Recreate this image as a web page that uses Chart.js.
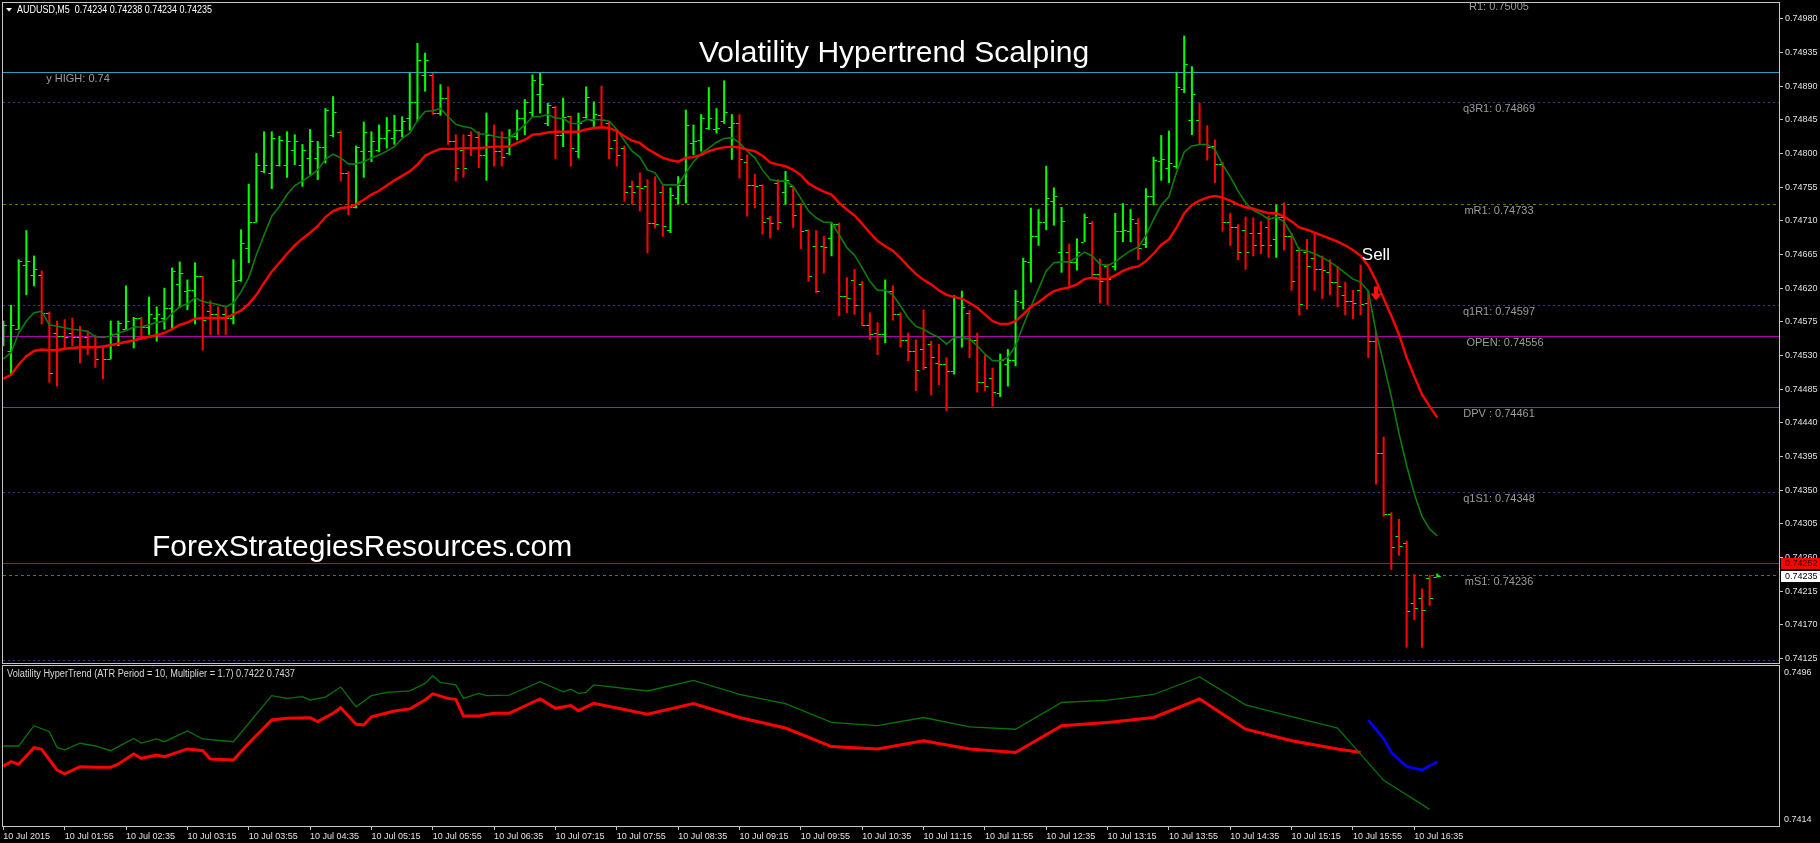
<!DOCTYPE html>
<html>
<head>
<meta charset="utf-8">
<title>Volatility Hypertrend Scalping</title>
<script src="https://cdn.jsdelivr.net/npm/chart.js@4.4.1/dist/chart.umd.min.js"></script>
<style>
  html, body { margin: 0; padding: 0; background: #000; overflow: hidden; }
  #mainWrap { position: absolute; left: 0; top: 0; width: 1820px; height: 666px; }
  #subWrap { position: absolute; left: 0; top: 664px; width: 1820px; height: 179px; }
</style>
</head>
<body>
<div id="mainWrap"><canvas id="mainChart" width="1820" height="666"></canvas></div>
<div id="subWrap"><canvas id="subChart" width="1820" height="179"></canvas></div>
<script>
'use strict';

// AUDUSD M5, 10 Jul 2015 -- bar 0 is 01:15, bar 187 is 16:50 (still open)
const opens = [
  0.74547, 0.74536, 0.74565, 0.74651, 0.74638, 0.74637, 0.74587, 0.74560, 0.74556, 0.74560,
  0.74555, 0.74554, 0.74543, 0.74543, 0.74525, 0.74558, 0.74565, 0.74549, 0.74580, 0.74568,
  0.74580, 0.74580, 0.74594, 0.74625, 0.74616, 0.74618, 0.74636, 0.74589, 0.74585, 0.74586,
  0.74580, 0.74631, 0.74674, 0.74709, 0.74776, 0.74774, 0.74785, 0.74785, 0.74805, 0.74785,
  0.74794, 0.74794, 0.74809, 0.74825, 0.74829, 0.74774, 0.74729, 0.74803, 0.74803, 0.74805,
  0.74820, 0.74820, 0.74831, 0.74847, 0.74869, 0.74905, 0.74905, 0.74854, 0.74874, 0.74816,
  0.74805, 0.74825, 0.74822, 0.74798, 0.74825, 0.74803, 0.74800, 0.74823, 0.74847, 0.74855,
  0.74880, 0.74840, 0.74862, 0.74825, 0.74850, 0.74803, 0.74849, 0.74845, 0.74851, 0.74841,
  0.74818, 0.74807, 0.74756, 0.74756, 0.74756, 0.74707, 0.74749, 0.74698, 0.74740, 0.74758,
  0.74814, 0.74818, 0.74834, 0.74832, 0.74843, 0.74835, 0.74840, 0.74789, 0.74758, 0.74758,
  0.74714, 0.74760, 0.74749, 0.74756, 0.74732, 0.74698, 0.74676, 0.74676, 0.74687, 0.74705,
  0.74609, 0.74631, 0.74625, 0.74571, 0.74560, 0.74558, 0.74616, 0.74585, 0.74550, 0.74536,
  0.74538, 0.74545, 0.74520, 0.74518, 0.74509, 0.74554, 0.74587, 0.74551, 0.74494, 0.74500,
  0.74480, 0.74519, 0.74524, 0.74601, 0.74655, 0.74690, 0.74709, 0.74737, 0.74668, 0.74668,
  0.74655, 0.74682, 0.74707, 0.74639, 0.74649, 0.74649, 0.74696, 0.74696, 0.74707, 0.74679,
  0.74743, 0.74790, 0.74781, 0.74783, 0.74886, 0.74845, 0.74845, 0.74813, 0.74810, 0.74786,
  0.74709, 0.74701, 0.74698, 0.74693, 0.74693, 0.74701, 0.74685, 0.74715, 0.74690, 0.74671,
  0.74668, 0.74660, 0.74646, 0.74641, 0.74628, 0.74611, 0.74603, 0.74617, 0.74600, 0.74549,
  0.74399, 0.74318, 0.74289, 0.74280, 0.74199, 0.74206, 0.74232, 0.74234
];
const highs = [
  0.74576, 0.74597, 0.74658, 0.74697, 0.74663, 0.74643, 0.74588, 0.74576, 0.74578, 0.74580,
  0.74569, 0.74563, 0.74557, 0.74543, 0.74576, 0.74576, 0.74623, 0.74581, 0.74581, 0.74608,
  0.74595, 0.74620, 0.74647, 0.74655, 0.74631, 0.74654, 0.74636, 0.74603, 0.74595, 0.74594,
  0.74658, 0.74698, 0.74759, 0.74800, 0.74829, 0.74829, 0.74823, 0.74829, 0.74825, 0.74812,
  0.74832, 0.74816, 0.74860, 0.74876, 0.74830, 0.74776, 0.74810, 0.74842, 0.74829, 0.74838,
  0.74848, 0.74851, 0.74849, 0.74907, 0.74947, 0.74934, 0.74907, 0.74892, 0.74889, 0.74825,
  0.74825, 0.74829, 0.74829, 0.74854, 0.74838, 0.74829, 0.74832, 0.74858, 0.74872, 0.74905,
  0.74907, 0.74867, 0.74863, 0.74874, 0.74850, 0.74854, 0.74889, 0.74869, 0.74890, 0.74843,
  0.74832, 0.74810, 0.74763, 0.74774, 0.74765, 0.74769, 0.74756, 0.74754, 0.74769, 0.74858,
  0.74838, 0.74852, 0.74888, 0.74860, 0.74897, 0.74852, 0.74852, 0.74798, 0.74772, 0.74758,
  0.74716, 0.74765, 0.74776, 0.74756, 0.74733, 0.74698, 0.74697, 0.74689, 0.74707, 0.74707,
  0.74634, 0.74645, 0.74629, 0.74587, 0.74574, 0.74631, 0.74623, 0.74587, 0.74560, 0.74551,
  0.74591, 0.74549, 0.74545, 0.74527, 0.74610, 0.74616, 0.74590, 0.74560, 0.74530, 0.74513,
  0.74532, 0.74538, 0.74617, 0.74660, 0.74727, 0.74725, 0.74783, 0.74754, 0.74728, 0.74679,
  0.74686, 0.74719, 0.74709, 0.74659, 0.74652, 0.74720, 0.74733, 0.74725, 0.74713, 0.74753,
  0.74795, 0.74824, 0.74830, 0.74908, 0.74957, 0.74916, 0.74867, 0.74837, 0.74818, 0.74788,
  0.74720, 0.74705, 0.74715, 0.74714, 0.74709, 0.74716, 0.74731, 0.74734, 0.74693, 0.74674,
  0.74685, 0.74694, 0.74663, 0.74658, 0.74649, 0.74628, 0.74617, 0.74651, 0.74617, 0.74562,
  0.74421, 0.74320, 0.74311, 0.74282, 0.74237, 0.74218, 0.74236, 0.74238
];
const lows = [
  0.74543, 0.74505, 0.74565, 0.74611, 0.74623, 0.74572, 0.74494, 0.74489, 0.74540, 0.74543,
  0.74520, 0.74531, 0.74514, 0.74499, 0.74525, 0.74543, 0.74565, 0.74540, 0.74551, 0.74558,
  0.74549, 0.74565, 0.74565, 0.74594, 0.74591, 0.74572, 0.74537, 0.74558, 0.74558, 0.74558,
  0.74572, 0.74629, 0.74654, 0.74708, 0.74774, 0.74753, 0.74783, 0.74768, 0.74785, 0.74756,
  0.74772, 0.74765, 0.74787, 0.74822, 0.74763, 0.74718, 0.74727, 0.74768, 0.74789, 0.74802,
  0.74807, 0.74812, 0.74822, 0.74831, 0.74843, 0.74883, 0.74852, 0.74851, 0.74812, 0.74763,
  0.74768, 0.74797, 0.74781, 0.74764, 0.74783, 0.74783, 0.74798, 0.74818, 0.74825, 0.74849,
  0.74854, 0.74837, 0.74793, 0.74809, 0.74783, 0.74794, 0.74847, 0.74836, 0.74834, 0.74793,
  0.74783, 0.74736, 0.74732, 0.74723, 0.74667, 0.74700, 0.74689, 0.74694, 0.74732, 0.74734,
  0.74798, 0.74803, 0.74832, 0.74827, 0.74840, 0.74792, 0.74767, 0.74716, 0.74727, 0.74692,
  0.74687, 0.74698, 0.74732, 0.74701, 0.74673, 0.74629, 0.74614, 0.74640, 0.74663, 0.74583,
  0.74587, 0.74585, 0.74570, 0.74551, 0.74531, 0.74547, 0.74577, 0.74541, 0.74523, 0.74483,
  0.74511, 0.74477, 0.74491, 0.74456, 0.74505, 0.74541, 0.74527, 0.74481, 0.74483, 0.74462,
  0.74475, 0.74489, 0.74516, 0.74592, 0.74628, 0.74677, 0.74698, 0.74704, 0.74641, 0.74622,
  0.74644, 0.74682, 0.74636, 0.74600, 0.74598, 0.74644, 0.74682, 0.74682, 0.74658, 0.74674,
  0.74731, 0.74764, 0.74761, 0.74780, 0.74881, 0.74825, 0.74813, 0.74791, 0.74761, 0.74696,
  0.74677, 0.74658, 0.74645, 0.74663, 0.74666, 0.74661, 0.74661, 0.74671, 0.74617, 0.74584,
  0.74592, 0.74617, 0.74606, 0.74611, 0.74595, 0.74584, 0.74579, 0.74584, 0.74527, 0.74358,
  0.74315, 0.74244, 0.74263, 0.74140, 0.74177, 0.74140, 0.74196, 0.74234
];
const closes = [
  0.74571, 0.74571, 0.74656, 0.74656, 0.74645, 0.74587, 0.74507, 0.74556, 0.74555, 0.74555,
  0.74543, 0.74543, 0.74525, 0.74525, 0.74558, 0.74574, 0.74576, 0.74580, 0.74568, 0.74585,
  0.74585, 0.74594, 0.74643, 0.74640, 0.74618, 0.74636, 0.74578, 0.74585, 0.74580, 0.74580,
  0.74629, 0.74680, 0.74709, 0.74785, 0.74785, 0.74820, 0.74818, 0.74816, 0.74816, 0.74805,
  0.74816, 0.74809, 0.74858, 0.74856, 0.74774, 0.74729, 0.74809, 0.74829, 0.74816, 0.74820,
  0.74831, 0.74831, 0.74843, 0.74869, 0.74925, 0.74925, 0.74854, 0.74874, 0.74817, 0.74780,
  0.74781, 0.74809, 0.74798, 0.74825, 0.74803, 0.74795, 0.74823, 0.74847, 0.74869, 0.74898,
  0.74893, 0.74865, 0.74825, 0.74849, 0.74807, 0.74840, 0.74876, 0.74852, 0.74845, 0.74807,
  0.74798, 0.74749, 0.74749, 0.74754, 0.74707, 0.74705, 0.74703, 0.74745, 0.74758, 0.74838,
  0.74817, 0.74847, 0.74847, 0.74834, 0.74856, 0.74840, 0.74792, 0.74758, 0.74756, 0.74709,
  0.74707, 0.74709, 0.74765, 0.74718, 0.74696, 0.74636, 0.74616, 0.74675, 0.74705, 0.74609,
  0.74607, 0.74598, 0.74571, 0.74559, 0.74558, 0.74616, 0.74585, 0.74550, 0.74536, 0.74510,
  0.74515, 0.74528, 0.74518, 0.74509, 0.74554, 0.74595, 0.74551, 0.74494, 0.74489, 0.74481,
  0.74524, 0.74524, 0.74603, 0.74656, 0.74690, 0.74709, 0.74741, 0.74743, 0.74710, 0.74655,
  0.74668, 0.74715, 0.74639, 0.74630, 0.74632, 0.74696, 0.74698, 0.74712, 0.74674, 0.74743,
  0.74791, 0.74792, 0.74787, 0.74889, 0.74919, 0.74880, 0.74813, 0.74808, 0.74786, 0.74709,
  0.74701, 0.74668, 0.74668, 0.74677, 0.74678, 0.74678, 0.74715, 0.74690, 0.74630, 0.74599,
  0.74649, 0.74645, 0.74644, 0.74628, 0.74623, 0.74603, 0.74600, 0.74599, 0.74549, 0.74399,
  0.74318, 0.74274, 0.74275, 0.74188, 0.74193, 0.74190, 0.74206, 0.74235
];

// the two moving averages on the price window (one value per bar)
const maFast = [
  0.74525, 0.74534, 0.74560, 0.74576, 0.74587, 0.74589, 0.74571, 0.74569, 0.74567, 0.74565,
  0.74564, 0.74562, 0.74555, 0.74554, 0.74556, 0.74560, 0.74563, 0.74568, 0.74568, 0.74571,
  0.74574, 0.74576, 0.74586, 0.74595, 0.74599, 0.74607, 0.74602, 0.74600, 0.74598, 0.74595,
  0.74600, 0.74615, 0.74634, 0.74665, 0.74691, 0.74716, 0.74729, 0.74745, 0.74757, 0.74763,
  0.74770, 0.74778, 0.74792, 0.74799, 0.74794, 0.74786, 0.74786, 0.74789, 0.74794, 0.74798,
  0.74803, 0.74809, 0.74820, 0.74827, 0.74844, 0.74856, 0.74857, 0.74860, 0.74849, 0.74839,
  0.74836, 0.74834, 0.74826, 0.74826, 0.74823, 0.74821, 0.74821, 0.74829, 0.74838, 0.74849,
  0.74849, 0.74852, 0.74847, 0.74847, 0.74840, 0.74840, 0.74845, 0.74845, 0.74845, 0.74843,
  0.74832, 0.74817, 0.74803, 0.74795, 0.74778, 0.74774, 0.74758, 0.74758, 0.74758, 0.74774,
  0.74789, 0.74800, 0.74807, 0.74815, 0.74820, 0.74821, 0.74814, 0.74803, 0.74794, 0.74778,
  0.74765, 0.74763, 0.74763, 0.74756, 0.74740, 0.74723, 0.74714, 0.74708, 0.74708, 0.74691,
  0.74674, 0.74664, 0.74647, 0.74629, 0.74617, 0.74617, 0.74611, 0.74596, 0.74580, 0.74569,
  0.74565, 0.74559, 0.74554, 0.74545, 0.74554, 0.74554, 0.74552, 0.74543, 0.74532, 0.74523,
  0.74523, 0.74527, 0.74543, 0.74570, 0.74595, 0.74619, 0.74643, 0.74654, 0.74655, 0.74655,
  0.74661, 0.74668, 0.74663, 0.74652, 0.74650, 0.74655, 0.74663, 0.74670, 0.74675, 0.74690,
  0.74712, 0.74731, 0.74742, 0.74775, 0.74802, 0.74810, 0.74812, 0.74812, 0.74805, 0.74785,
  0.74769, 0.74750, 0.74734, 0.74724, 0.74719, 0.74712, 0.74715, 0.74709, 0.74692, 0.74671,
  0.74670, 0.74666, 0.74661, 0.74655, 0.74648, 0.74640, 0.74632, 0.74628, 0.74616, 0.74562,
  0.74519, 0.74475, 0.74426, 0.74383, 0.74345, 0.74315, 0.74298, 0.74289
];
const maSlow = [
  0.74499, 0.74504, 0.74518, 0.74529, 0.74536, 0.74538, 0.74537, 0.74537, 0.74539, 0.74540,
  0.74541, 0.74541, 0.74541, 0.74542, 0.74544, 0.74546, 0.74548, 0.74550, 0.74553, 0.74555,
  0.74557, 0.74560, 0.74565, 0.74571, 0.74574, 0.74579, 0.74580, 0.74580, 0.74580, 0.74580,
  0.74585, 0.74590, 0.74599, 0.74611, 0.74627, 0.74642, 0.74654, 0.74666, 0.74677, 0.74686,
  0.74694, 0.74703, 0.74715, 0.74723, 0.74727, 0.74728, 0.74732, 0.74738, 0.74745, 0.74750,
  0.74757, 0.74764, 0.74770, 0.74776, 0.74785, 0.74797, 0.74802, 0.74806, 0.74806, 0.74806,
  0.74807, 0.74807, 0.74807, 0.74808, 0.74809, 0.74809, 0.74809, 0.74814, 0.74818, 0.74825,
  0.74826, 0.74828, 0.74829, 0.74829, 0.74829, 0.74829, 0.74832, 0.74834, 0.74835, 0.74834,
  0.74830, 0.74823, 0.74817, 0.74814, 0.74806, 0.74800, 0.74794, 0.74791, 0.74789, 0.74794,
  0.74795, 0.74798, 0.74803, 0.74806, 0.74808, 0.74809, 0.74808, 0.74805, 0.74803, 0.74797,
  0.74788, 0.74785, 0.74783, 0.74778, 0.74771, 0.74760, 0.74754, 0.74749, 0.74745, 0.74734,
  0.74725, 0.74717, 0.74706, 0.74694, 0.74683, 0.74676, 0.74670, 0.74660, 0.74649, 0.74639,
  0.74631, 0.74625, 0.74617, 0.74611, 0.74608, 0.74606, 0.74600, 0.74594, 0.74585, 0.74576,
  0.74572, 0.74572, 0.74576, 0.74585, 0.74595, 0.74601, 0.74609, 0.74616, 0.74619, 0.74621,
  0.74625, 0.74632, 0.74634, 0.74632, 0.74632, 0.74637, 0.74643, 0.74647, 0.74649, 0.74656,
  0.74666, 0.74678, 0.74685, 0.74701, 0.74720, 0.74731, 0.74737, 0.74741, 0.74743, 0.74741,
  0.74737, 0.74732, 0.74728, 0.74726, 0.74723, 0.74720, 0.74720, 0.74716, 0.74709, 0.74701,
  0.74698, 0.74694, 0.74690, 0.74686, 0.74682, 0.74677, 0.74671, 0.74663, 0.74650, 0.74630,
  0.74606, 0.74583, 0.74558, 0.74527, 0.74502, 0.74478, 0.74462, 0.74447
];

// Volatility HyperTrend window: upper band, up-trend line (red), down-trend line (blue)
const vhtUpperBars = [0, 2, 4, 6, 7, 8, 10, 12, 14, 17, 18, 20, 21, 24, 26, 30, 35, 37, 39, 40,
  42, 44, 46, 48, 50, 53, 55, 56, 57, 59, 60, 62, 63, 66, 67, 70, 73, 74, 75, 76,
  77, 84, 90, 96, 102, 108, 114, 120, 126, 132, 138, 144, 150, 156, 162, 168, 174, 180, 186];
const vhtUpper = [0.74550, 0.74550, 0.74654, 0.74623, 0.74543, 0.74530, 0.74564, 0.74550, 0.74526, 0.74589,
  0.74565, 0.74586, 0.74572, 0.74627, 0.74586, 0.74572, 0.74808, 0.74794, 0.74803, 0.74786,
  0.74801, 0.74852, 0.74751, 0.74808, 0.74825, 0.74833, 0.74871, 0.74910, 0.74876, 0.74863,
  0.74794, 0.74820, 0.74808, 0.74811, 0.74828, 0.74880, 0.74828, 0.74841, 0.74820, 0.74825,
  0.74863, 0.74832, 0.74886, 0.74814, 0.74767, 0.74671, 0.74654, 0.74696, 0.74648, 0.74636,
  0.74773, 0.74785, 0.74814, 0.74904, 0.74761, 0.74701, 0.74642, 0.74374, 0.74225];
const vhtUpBars = [0, 1, 2, 4, 5, 7, 8, 10, 12, 14, 15, 17, 18, 20, 21, 24, 26, 27, 30, 32,
  35, 37, 40, 41, 43, 44, 46, 47, 48, 51, 53, 55, 56, 58, 59, 60, 62, 64, 66, 68,
  70, 72, 74, 75, 77, 84, 90, 96, 102, 108, 114, 120, 126, 132, 138, 144, 150, 156, 162, 168,
  174, 177];
const vhtUpTrend = [0.74447, 0.74470, 0.74456, 0.74541, 0.74533, 0.74427, 0.74407, 0.74444, 0.74441, 0.74441,
  0.74458, 0.74509, 0.74487, 0.74504, 0.74495, 0.74535, 0.74526, 0.74483, 0.74478, 0.74564,
  0.74683, 0.74692, 0.74695, 0.74675, 0.74718, 0.74746, 0.74661, 0.74658, 0.74700, 0.74729,
  0.74740, 0.74786, 0.74817, 0.74794, 0.74789, 0.74704, 0.74704, 0.74718, 0.74718, 0.74755,
  0.74791, 0.74743, 0.74757, 0.74731, 0.74769, 0.74713, 0.74767, 0.74696, 0.74642, 0.74547,
  0.74535, 0.74577, 0.74535, 0.74517, 0.74654, 0.74671, 0.74696, 0.74791, 0.74636, 0.74577,
  0.74535, 0.74517];
const vhtDownBars = [178, 180, 181, 183, 185, 187];
const vhtDownTrend = [0.74683, 0.74588, 0.74517, 0.74445, 0.74427, 0.74470];

const xTickBars = [0, 8, 16, 24, 32, 40, 48, 56, 64, 72, 80, 88, 96, 104, 112, 120, 128, 136, 144, 152, 160, 168, 176, 184];
const xTickLabels = ['10 Jul 2015', '10 Jul 01:55', '10 Jul 02:35', '10 Jul 03:15', '10 Jul 03:55', '10 Jul 04:35',
  '10 Jul 05:15', '10 Jul 05:55', '10 Jul 06:35', '10 Jul 07:15', '10 Jul 07:55', '10 Jul 08:35',
  '10 Jul 09:15', '10 Jul 09:55', '10 Jul 10:35', '10 Jul 11:15', '10 Jul 11:55', '10 Jul 12:35',
  '10 Jul 13:15', '10 Jul 13:55', '10 Jul 14:35', '10 Jul 15:15', '10 Jul 15:55', '10 Jul 16:35'];
const priceTicks = [0.74980, 0.74935, 0.74890, 0.74845, 0.74800, 0.74755, 0.74710, 0.74665, 0.74620, 0.74575,
  0.74530, 0.74485, 0.74440, 0.74395, 0.74350, 0.74305, 0.74260, 0.74215, 0.74170, 0.74125];
const vhtTicks = [0.7496, 0.7414];

// pivot levels drawn across the price window
const levelLabels = ['R1: 0.75005', 'y HIGH: 0.74', 'q3R1: 0.74869', 'mR1: 0.74733', 'q1R1: 0.74597',
  'OPEN: 0.74556', 'DPV : 0.74461', 'q1S1: 0.74348', '', 'mS1: 0.74236', ''];
const levelValues = [0.75005, 0.74909, 0.74869, 0.74733, 0.74597, 0.74556, 0.74461, 0.74348, 0.74252, 0.74236, 0.74123];
const levelKinds = ['quarter', 'yhigh', 'quarter', 'mid', 'quarter', 'open', 'dpv', 'quarter', 'ask', 'mid', 'quarter'];

const askPrice = 0.74252;
const bidPrice = 0.74235;
const sellBar = 179;
const sellArrowPrice = 0.74622;
const sellTextPrice = 0.74658;

const X_MIN = -0.047;
const X_MAX = 231.56;
const FONT = 'Liberation Sans';
const UP = '#00ff00';
const DOWN = '#ff0000';

const levelStyle = {
  quarter: { color: '#3b3b80', dash: [2, 3], labelX: 1499 },
  mid: { color: '#6f6f00', dash: [3, 3], labelX: 1499 },
  yhigh: { color: '#2ba3bd', dash: [], labelX: 78 },
  open: { color: '#b000b0', dash: [], labelX: 1505 },
  dpv: { color: '#1d5fc8', dash: [], labelX: 1499 },
  ask: { color: '#e80000', dash: [], labelX: 0 }
};

Chart.defaults.font.family = FONT;
Chart.defaults.color = '#e0e0e0';

function clipArea(ctx, a) {
  ctx.beginPath();
  ctx.rect(a.left, a.top, a.right - a.left, a.bottom - a.top);
  ctx.clip();
}

function frame(ctx, a) {
  ctx.strokeStyle = '#c4c4c4';
  ctx.lineWidth = 1;
  ctx.setLineDash([]);
  ctx.strokeRect(a.left - 0.5, a.top - 0.5, a.right - a.left + 1, a.bottom - a.top + 1);
}

const levelsPlugin = {
  id: 'levels',
  beforeDatasetsDraw(chart) {
    const { ctx, chartArea: a, scales: { y } } = chart;
    ctx.save();
    clipArea(ctx, a);
    ctx.font = '11px ' + FONT;
    ctx.textAlign = 'center';
    ctx.textBaseline = 'middle';
    levelValues.forEach((v, k) => {
      const st = levelStyle[levelKinds[k]];
      const py = Math.round(y.getPixelForValue(v)) + 0.5;
      ctx.strokeStyle = st.color;
      ctx.lineWidth = 1;
      ctx.setLineDash(st.dash);
      ctx.beginPath();
      ctx.moveTo(a.left, py);
      ctx.lineTo(a.right, py);
      ctx.stroke();
      if (levelLabels[k]) {
        ctx.fillStyle = '#9c9c9c';
        ctx.fillText(levelLabels[k], st.labelX, py + 6);
      }
    });
    ctx.restore();
  }
};

// open / close ticks of the OHLC bars
const ohlcTicks = {
  id: 'ohlcTicks',
  afterDatasetDraw(chart, args) {
    if (args.index !== 2) return;
    const { ctx, chartArea: a, scales: { x, y } } = chart;
    ctx.save();
    clipArea(ctx, a);
    ctx.strokeStyle = UP;
    ctx.lineWidth = 1;
    ctx.beginPath();
    opens.forEach((o, i) => {
      const px = x.getPixelForValue(i);
      const yo = Math.round(y.getPixelForValue(o)) + 0.5;
      const yc = Math.round(y.getPixelForValue(closes[i])) + 0.5;
      ctx.moveTo(px - 3.5, yo);
      ctx.lineTo(px - 0.7, yo);
      ctx.moveTo(px + 0.7, yc);
      ctx.lineTo(px + 3.5, yc);
    });
    ctx.stroke();
    ctx.restore();
  }
};

const mainOverlay = {
  id: 'mainOverlay',
  afterDraw(chart) {
    const { ctx, chartArea: a, scales: { x, y } } = chart;
    ctx.save();
    frame(ctx, a);

    // symbol line
    ctx.fillStyle = '#ffffff';
    ctx.beginPath();
    ctx.moveTo(6, 8);
    ctx.lineTo(12, 8);
    ctx.lineTo(9, 11.5);
    ctx.closePath();
    ctx.fill();
    ctx.font = '10px ' + FONT;
    ctx.textBaseline = 'middle';
    ctx.textAlign = 'left';
    ctx.fillText('AUDUSD,M5  0.74234 0.74238 0.74234 0.74235', 17, 10.5, 195);

    // captions
    ctx.font = '30px ' + FONT;
    ctx.textBaseline = 'alphabetic';
    ctx.fillText('Volatility Hypertrend Scalping', 699, 62);
    ctx.fillText('ForexStrategiesResources.com', 152, 556);

    // sell signal
    const sx = x.getPixelForValue(sellBar);
    ctx.font = '17px ' + FONT;
    ctx.textAlign = 'center';
    ctx.fillText('Sell', sx, y.getPixelForValue(sellTextPrice));
    const ay = y.getPixelForValue(sellArrowPrice);
    ctx.fillStyle = '#ff1010';
    ctx.beginPath();
    ctx.moveTo(sx - 2, ay);
    ctx.lineTo(sx + 2, ay);
    ctx.lineTo(sx + 2, ay + 7);
    ctx.lineTo(sx + 5.5, ay + 7);
    ctx.lineTo(sx, ay + 14);
    ctx.lineTo(sx - 5.5, ay + 7);
    ctx.lineTo(sx - 2, ay + 7);
    ctx.closePath();
    ctx.fill();

    // price tags on the axis
    ctx.font = '9px ' + FONT;
    ctx.textAlign = 'left';
    ctx.textBaseline = 'middle';
    const tags = [[askPrice, '#ff0000', '#200000'], [bidPrice, '#ffffff', '#000000']];
    tags.forEach(([p, bg, fg]) => {
      const py = Math.round(y.getPixelForValue(p));
      ctx.fillStyle = bg;
      ctx.fillRect(a.right + 2, py - 5, 1820 - a.right - 2, 11);
      ctx.fillStyle = fg;
      ctx.fillText(p.toFixed(5), a.right + 6, py + 0.5);
    });
    ctx.restore();
  }
};

const subOverlay = {
  id: 'subOverlay',
  afterDraw(chart) {
    const { ctx, chartArea: a, scales: { y } } = chart;
    ctx.save();
    frame(ctx, a);
    ctx.fillStyle = '#d8d8d8';
    ctx.font = '10px ' + FONT;
    ctx.textAlign = 'left';
    ctx.textBaseline = 'middle';
    ctx.fillText('Volatility HyperTrend (ATR Period = 10, Multiplier = 1.7) 0.7422 0.7437', 7, 10, 288);
    ctx.font = '9px ' + FONT;
    ctx.fillStyle = '#e0e0e0';
    ctx.textBaseline = 'top';
    ctx.fillText(vhtTicks[0].toFixed(4), a.right + 5, y.getPixelForValue(vhtTicks[0]) + 2);
    ctx.textBaseline = 'bottom';
    ctx.fillText(vhtTicks[1].toFixed(4), a.right + 5, y.getPixelForValue(vhtTicks[1]) - 2);
    ctx.restore();
  }
};

const pts = (vals, bars) => vals.map((v, k) => ({ x: bars ? bars[k] : k, y: v }));

const mainChart = new Chart(document.getElementById('mainChart'), {
  type: 'line',
  data: {
    datasets: [
      {
        label: 'MA fast',
        data: pts(maFast),
        borderColor: '#0c7d0c',
        borderWidth: 1.6,
        pointRadius: 0,
        tension: 0,
        order: 2
      },
      {
        label: 'MA slow',
        data: pts(maSlow),
        borderColor: '#ff0000',
        borderWidth: 2.4,
        pointRadius: 0,
        tension: 0,
        order: 1
      },
      {
        type: 'bar',
        label: 'AUDUSD',
        data: highs.map((h, i) => ({ x: i, y: [lows[i], h] })),
        backgroundColor: closes.map((c, i) => (c >= opens[i] ? UP : DOWN)),
        borderWidth: 0,
        barThickness: 1.4,
        minBarLength: 1,
        order: 10
      }
    ]
  },
  options: {
    responsive: false,
    animation: false,
    devicePixelRatio: 1,
    events: [],
    layout: { padding: { left: 3, top: 3, right: 0, bottom: 3 } },
    plugins: { legend: { display: false }, tooltip: { enabled: false } },
    scales: {
      x: { type: 'linear', display: false, min: X_MIN, max: X_MAX, offset: false },
      y: {
        type: 'linear',
        position: 'right',
        min: 0.74119,
        max: 0.75001,
        afterBuildTicks: ax => { ax.ticks = priceTicks.map(v => ({ value: v })); },
        afterFit: ax => { ax.width = 41; ax.paddingTop = 0; ax.paddingBottom = 0; },
        ticks: {
          callback: v => v.toFixed(5),
          color: '#e0e0e0',
          font: { size: 9 },
          padding: 2,
          autoSkip: false
        },
        grid: { drawOnChartArea: false, tickLength: 4, color: '#c4c4c4' },
        border: { display: false }
      }
    }
  },
  plugins: [levelsPlugin, ohlcTicks, mainOverlay]
});

const subChart = new Chart(document.getElementById('subChart'), {
  type: 'line',
  data: {
    datasets: [
      {
        label: 'upper',
        data: pts(vhtUpper, vhtUpperBars),
        borderColor: '#067406',
        borderWidth: 1.3,
        pointRadius: 0,
        tension: 0
      },
      {
        label: 'trend up',
        data: pts(vhtUpTrend, vhtUpBars),
        borderColor: '#ff0000',
        borderWidth: 3,
        pointRadius: 0,
        tension: 0
      },
      {
        label: 'trend down',
        data: pts(vhtDownTrend, vhtDownBars),
        borderColor: '#0000ff',
        borderWidth: 2.6,
        pointRadius: 0,
        tension: 0
      }
    ]
  },
  options: {
    responsive: false,
    animation: false,
    devicePixelRatio: 1,
    events: [],
    layout: { padding: { left: 3, top: 2, right: 41, bottom: 0 } },
    plugins: { legend: { display: false }, tooltip: { enabled: false } },
    scales: {
      x: {
        type: 'linear',
        position: 'bottom',
        min: X_MIN,
        max: X_MAX,
        offset: false,
        afterBuildTicks: ax => { ax.ticks = xTickBars.map(v => ({ value: v })); },
        afterFit: ax => { ax.height = 17; ax.paddingLeft = 0; ax.paddingRight = 0; },
        ticks: {
          callback: (v, i) => xTickLabels[i],
          color: '#e0e0e0',
          font: { size: 9 },
          align: 'start',
          padding: 1,
          autoSkip: false,
          maxRotation: 0,
          minRotation: 0
        },
        grid: { drawOnChartArea: false, tickLength: 4, color: '#c4c4c4' },
        border: { display: false }
      },
      y: { type: 'linear', display: false, min: vhtTicks[1], max: vhtTicks[0] }
    }
  },
  plugins: [subOverlay]
});
</script>
</body>
</html>
